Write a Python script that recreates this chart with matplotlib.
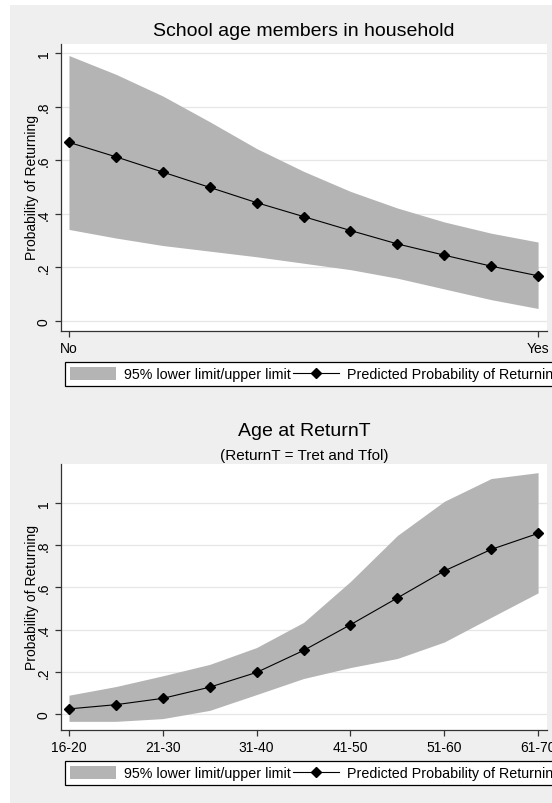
"""
Predicted probability of returning, with 95% band, for two covariates.
"""
import matplotlib
matplotlib.use("Agg")
import matplotlib.pyplot as plt
from matplotlib.lines import Line2D
from matplotlib.patches import Patch, Rectangle

plt.rcParams["font.family"] = ["Liberation Sans", "DejaVu Sans"]

# --- data ------------------------------------------------------------------
steps = list(range(11))

school_labels = ["No", "Yes"]
school_label_pos = [0, 10]
school_pred = [0.667, 0.613, 0.556, 0.499, 0.442, 0.390, 0.338, 0.288, 0.246, 0.205, 0.169]
school_upper = [0.991, 0.921, 0.840, 0.744, 0.644, 0.559, 0.484, 0.422, 0.370, 0.328, 0.295]
school_lower = [0.342, 0.310, 0.282, 0.261, 0.240, 0.216, 0.192, 0.160, 0.120, 0.080, 0.047]

age_labels = ["16-20", "21-30", "31-40", "41-50", "51-60", "61-70"]
age_label_pos = [0, 2, 4, 6, 8, 10]
age_pred = [0.024, 0.044, 0.074, 0.127, 0.197, 0.301, 0.423, 0.550, 0.678, 0.780, 0.856]
age_upper = [0.089, 0.130, 0.181, 0.235, 0.315, 0.434, 0.628, 0.846, 1.008, 1.116, 1.144]
age_lower = [-0.035, -0.035, -0.022, 0.017, 0.092, 0.168, 0.220, 0.263, 0.341, 0.458, 0.574]

y_ticks = [0, 0.2, 0.4, 0.6, 0.8, 1.0]
y_tick_labels = ["0", ".2", ".4", ".6", ".8", "1"]

BAND_COLOR = "#b4b4b4"
BG_COLOR = "#efefef"
AXIS_COLOR = "#333333"
W, H = 552, 804


def px_box(left, top, right, bottom):
    return [left / W, 1 - bottom / H, (right - left) / W, (bottom - top) / H]


def draw_panel(ax, lower, upper, pred, tick_pos, tick_labels, ylim):
    ax.set_facecolor("white")
    ax.fill_between(steps, lower, upper, color=BAND_COLOR, linewidth=0, zorder=2)
    ax.plot(steps, pred, color="black", linewidth=0.8, marker="D",
            markersize=5.2, zorder=3)
    ax.set_xlim(-0.17, 10.19)
    ax.set_ylim(*ylim)
    ax.set_xticks(tick_pos)
    ax.set_xticklabels(tick_labels)
    ax.set_yticks(y_ticks)
    ax.set_yticklabels(y_tick_labels, rotation=90, va="center")
    ax.grid(axis="y", color="#e6e6e6", linewidth=0.9)
    ax.set_axisbelow(True)
    for side in ("top", "right"):
        ax.spines[side].set_visible(False)
    for side in ("left", "bottom"):
        ax.spines[side].set_color(AXIS_COLOR)
        ax.spines[side].set_linewidth(0.9)
    ax.tick_params(length=4.3, width=0.9, color=AXIS_COLOR, labelsize=10,
                   pad=3)


def draw_legend(ax, anchor_y):
    handles = [
        Patch(facecolor=BAND_COLOR, edgecolor="none"),
        Line2D([], [], color="black", linewidth=0.8, marker="D", markersize=5.2),
    ]
    labels = ["95% lower limit/upper limit", "Predicted Probability of Returning"]
    leg = ax.legend(handles, labels, ncol=2, loc="upper left",
                    bbox_to_anchor=(65 / W, 1 - anchor_y / H),
                    bbox_transform=ax.figure.transFigure,
                    fontsize=10.3, frameon=True, fancybox=False, shadow=False,
                    edgecolor="black", framealpha=1, borderpad=0.35,
                    borderaxespad=0, handlelength=3.2, handleheight=1.0,
                    handletextpad=0.55, columnspacing=0.2)
    leg.get_frame().set_linewidth(0.9)


fig = plt.figure(figsize=(W / 100, H / 100), dpi=100, facecolor="white")
fig.patches.append(Rectangle((10 / W, 0), 1, 1 - 6 / H, transform=fig.transFigure,
                             facecolor=BG_COLOR, edgecolor="none", zorder=-10))

ax_top = fig.add_axes(px_box(61, 45, 547, 332))
draw_panel(ax_top, school_lower, school_upper, school_pred,
           school_label_pos, school_labels, (-0.037, 1.034))
draw_legend(ax_top, 363)
fig.text(304 / W, 1 - 32 / H, "School age members in household",
         ha="center", va="center", fontsize=14)
fig.text(32 / W, 1 - 188 / H, "Probability of Returning", rotation=90,
         ha="center", va="center", fontsize=10)

ax_bot = fig.add_axes(px_box(61, 465, 547, 731))
draw_panel(ax_bot, age_lower, age_upper, age_pred,
           age_label_pos, age_labels, (-0.076, 1.185))
draw_legend(ax_bot, 762)
fig.text(304 / W, 1 - 432 / H, "Age at ReturnT", ha="center", va="center",
         fontsize=14)
fig.text(304 / W, 1 - 456 / H, "(ReturnT = Tret and Tfol)", ha="center",
         va="center", fontsize=11)
fig.text(32 / W, 1 - 598 / H, "Probability of Returning", rotation=90,
         ha="center", va="center", fontsize=10)

fig.savefig("out.png", dpi=100)
